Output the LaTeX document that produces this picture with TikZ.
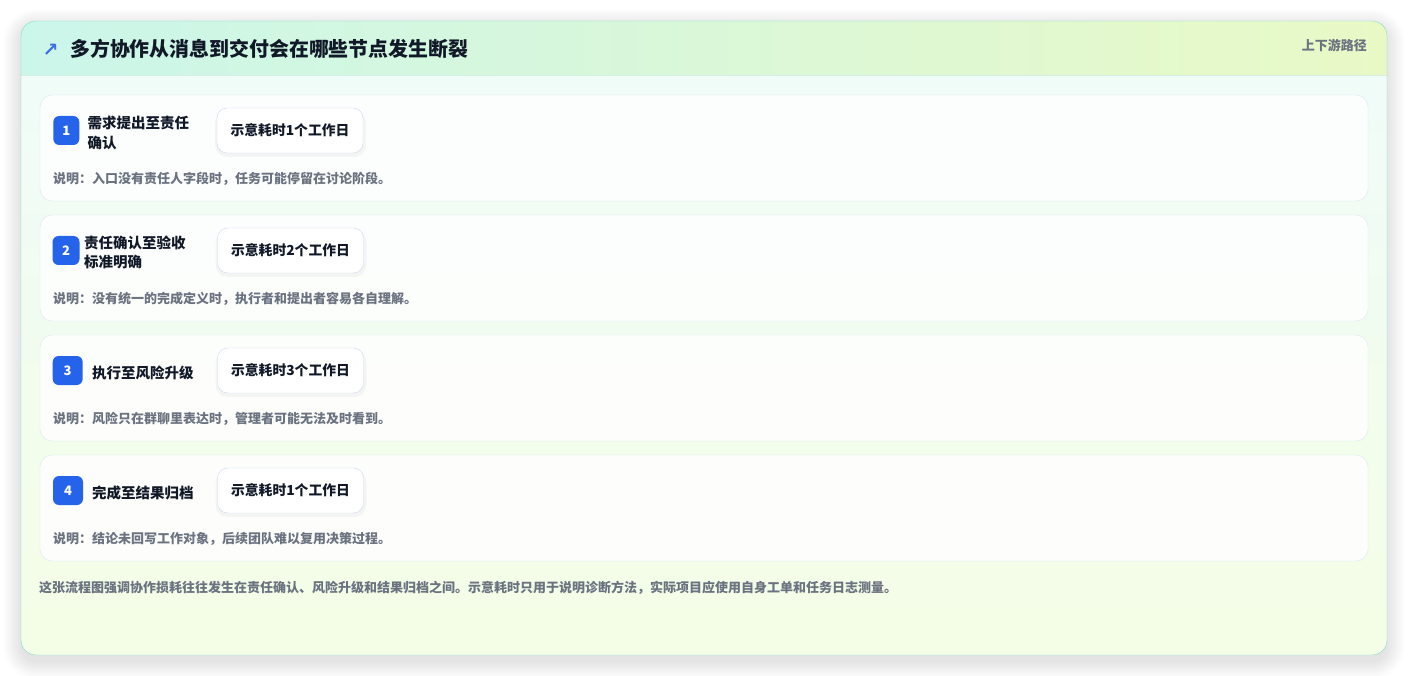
\documentclass[tikz,border=0pt]{standalone}
\usepackage{fontspec}
\setmainfont{Noto Sans CJK SC}
\newfontfamily\symfont{DejaVu Sans}

\definecolor{panelline}{HTML}{7EDCCF}
\definecolor{headL}{HTML}{CBF6EA}
\definecolor{headR}{HTML}{E9F9C6}
\definecolor{headsep}{HTML}{D3EFE6}
\definecolor{bodyT}{HTML}{EFFCF8}
\definecolor{bodyB}{HTML}{F4FDE5}
\definecolor{stepline}{HTML}{DAE6F2}
\definecolor{pillline}{HTML}{C9D8EF}
\definecolor{badgeblue}{HTML}{2563EB}
\definecolor{ink}{HTML}{111827}
\definecolor{muted}{HTML}{6B7280}
\definecolor{arrowblue}{HTML}{3B6FE3}

\begin{document}
\begin{tikzpicture}[x=1pt,y=-1pt,
    stepcard/.style={draw=stepline,fill=white,fill opacity=0.85,rounded corners=12pt,
        minimum width=1328pt,minimum height=106pt,inner sep=0pt},
    badge/.style={fill=badgeblue,rounded corners=6pt,text=white,inner sep=0pt,
        minimum height=29pt,font=\bfseries\fontsize{13}{13}\selectfont},
    steplabel/.style={anchor=west,align=left,inner sep=0pt,text=ink,
        font=\bfseries\fontsize{14.5}{19.5}\selectfont},
    pill/.style={draw=pillline,fill=white,rounded corners=10pt,text=ink,
        minimum width=146pt,minimum height=45pt,inner sep=0pt,
        font=\bfseries\fontsize{13.8}{13.8}\selectfont},
    pillshadow/.style={fill=black,opacity=0.035,rounded corners=12pt},
    desc/.style={anchor=west,inner sep=0pt,text=muted,font=\bfseries\fontsize{13}{13}\selectfont}]
    \useasboundingbox (0,0) rectangle (1408,676);
    \fill[white] (0,0) rectangle (1408,676);

    % soft shadow of the panel
    \foreach \s in {1,3,...,17}
        \fill[black,opacity=0.012,rounded corners=15pt+\s pt] (21-\s,27-\s) rectangle (1387+\s,661+\s);

    % panel
    \begin{scope}
        \clip[rounded corners=15pt] (21,21) rectangle (1387,655);
        \shade[top color=bodyT,bottom color=bodyB] (21,75) rectangle (1387,655);
        \shade[left color=headL,right color=headR] (21,21) rectangle (1387,75);
    \end{scope}
    \draw[headsep] (21,75) -- (1387,75);
    \draw[panelline,rounded corners=15pt] (21,21) rectangle (1387,655);

    \node[inner sep=0pt,text=arrowblue,font=\symfont\bfseries\fontsize{19}{19}\selectfont] (icon) at (50.5,50) {↗};
    \node[anchor=west,inner sep=0pt,text=ink,font=\bfseries\fontsize{19.9}{19.9}\selectfont] (title) at (70,49) {多方协作从消息到交付会在哪些节点发生断裂};
    \node[anchor=east,inner sep=0pt,text=muted,font=\bfseries\fontsize{13}{13}\selectfont] (path) at (1367,45) {上下游路径};

    % steps
    \node[stepcard] (card1) at (704,148) {};
    \node[stepcard] (card2) at (704,268) {};
    \node[stepcard] (card3) at (704,388) {};
    \node[stepcard] (card4) at (704,508) {};

    \node[badge,minimum width=26pt] (b1) at (66.3,130.5) {1};
    \node[badge,minimum width=27pt] (b2) at (66,250.5) {2};
    \node[badge,minimum width=30pt] (b3) at (67.7,370.5) {3};
    \node[badge,minimum width=30pt] (b4) at (68,490.5) {4};

    \node[steplabel] (lab1) at (87.5,133) {需求提出至责任\\确认};
    \node[steplabel] (lab2) at (84,252.3) {责任确认至验收\\标准明确};
    \node[steplabel] (lab3) at (92,372.5) {执行至风险升级};
    \node[steplabel] (lab4) at (92,492.5) {完成至结果归档};

    \fill[pillshadow] (215,111) rectangle (366,157);
    \fill[pillshadow] (215.5,231) rectangle (366.5,277);
    \fill[pillshadow] (215.5,351) rectangle (366.5,397);
    \fill[pillshadow] (215.5,471) rectangle (366.5,517);
    \node[pill] (t1) at (290,130.5) {示意耗时1个工作日};
    \node[pill] (t2) at (290.5,250.5) {示意耗时2个工作日};
    \node[pill] (t3) at (290.5,370.5) {示意耗时3个工作日};
    \node[pill] (t4) at (290.5,490.5) {示意耗时1个工作日};

    \node[desc] (d1) at (53,179) {说明：入口没有责任人字段时，任务可能停留在讨论阶段。};
    \node[desc] (d2) at (53,299) {说明：没有统一的完成定义时，执行者和提出者容易各自理解。};
    \node[desc] (d3) at (53,419) {说明：风险只在群聊里表达时，管理者可能无法及时看到。};
    \node[desc] (d4) at (53,539) {说明：结论未回写工作对象，后续团队难以复用决策过程。};

    \node[desc] (note) at (39,587.5) {这张流程图强调协作损耗往往发生在责任确认、风险升级和结果归档之间。示意耗时只用于说明诊断方法，实际项目应使用自身工单和任务日志测量。};
\end{tikzpicture}
\end{document}
